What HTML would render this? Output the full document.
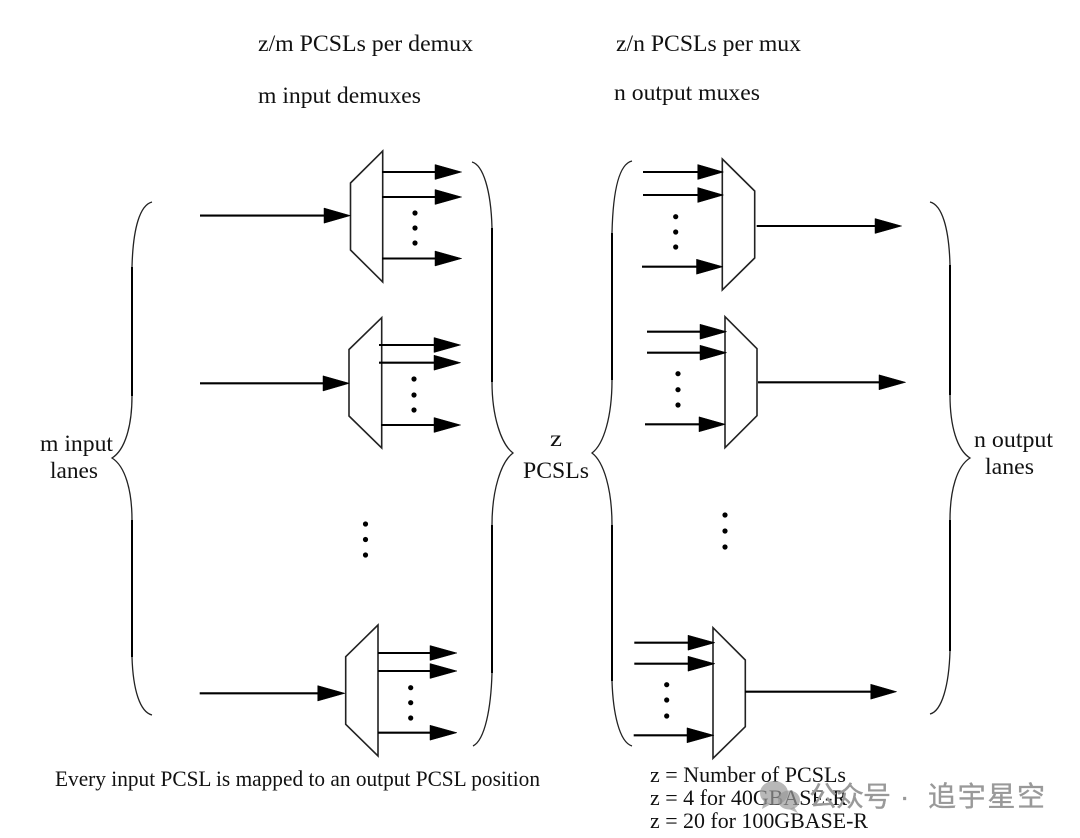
<!DOCTYPE html>
<html><head><meta charset="utf-8"><style>
html,body{margin:0;padding:0;background:#fff;width:1080px;height:838px;overflow:hidden}
svg{display:block}
text{font-family:"Liberation Serif","Noto Serif CJK SC",serif;fill:#111}
.t{font-size:23px}.b{font-size:22px}
.wm{font-family:"Liberation Sans","Noto Sans CJK SC",sans-serif;font-size:28px;fill:#999;stroke:#999;stroke-width:.35}
.l{stroke:#000;stroke-width:2.1;fill:none}
.m{stroke:#222;stroke-width:1.6;fill:#fff;stroke-linejoin:miter}
.h{fill:#000;stroke:#000;stroke-width:.5}
.br{stroke:#222;stroke-width:1.3;fill:none}
.v{stroke:#000;stroke-width:2;fill:none}
circle{r:2.6px}
</style></head><body>
<svg width="1080" height="838" viewBox="0 0 1080 838" xmlns="http://www.w3.org/2000/svg">
<rect width="1080" height="838" fill="#fff"/>

<!-- braces -->
<path class="br" d="M152,202 C140,205 133,228 132,267 V396 C132,426 125,450 112,458 C125,466 132,490 132,520 V657 C133,690 140,712 152,715"/>
<path class="br" d="M472,162 C483,165 491,190 492,228 V382 C492,416 501,444 513,453 C501,462 492,490 492,525 V673 C491,708 485,740 473,746"/>
<path class="br" d="M632,161 C619,164 613,190 612,233 V380 C612,416 604,444 592,453 C604,462 612,490 612,525 V681 C613,712 619,742 632,746"/>
<path class="br" d="M930,202 C942,205 949,228 950,265 V395 C950,426 957,450 970,458 C957,466 950,490 950,520 V651 C949,685 942,711 930,714"/>
<path class="v" d="M132,267 V396 M132,520 V657 M492,228 V382 M492,525 V673 M612,233 V380 M612,525 V681 M950,265 V395 M950,520 V651"/>

<!-- demux 1 -->
<path class="m" d="M382.7,151 L350.5,183 V250 L382.7,282 Z"/>
<path class="l" d="M200,215.6 H326 M382,172 H437 M382,197 H437 M382,258.5 H437"/>
<path class="h" d="M350.5,215.6 L324,208 V223.2 Z M461.7,172 L435,164.5 V179.5 Z M461.7,197 L435,189.5 V204.5 Z M461.7,258.5 L435,251 V266 Z"/>
<circle cx="415" cy="213" r="2.6"/><circle cx="415" cy="228" r="2.6"/><circle cx="415" cy="243" r="2.6"/>

<!-- demux 2 -->
<path class="m" d="M381.7,317.7 L349,349.5 V416 L381.7,448 Z"/>
<path class="l" d="M200,383.3 H325 M379,345 H436 M379,362.7 H436 M381,425 H436"/>
<path class="h" d="M349.5,383.3 L323,375.8 V391 Z M460.7,345 L434,337.5 V352.5 Z M460.7,362.7 L434,355.2 V370.2 Z M460.7,425 L434,417.5 V432.5 Z"/>
<circle cx="414" cy="379" r="2.6"/><circle cx="414" cy="395" r="2.6"/><circle cx="414" cy="410" r="2.6"/>

<!-- demux 3 -->
<path class="m" d="M378,625 L345.7,656.7 V724.3 L378,756 Z"/>
<path class="l" d="M199.7,693.3 H320 M378,653 H432 M378,671 H432 M378,732.7 H432"/>
<path class="h" d="M345,693.3 L317.7,685.6 V701 Z M457,653 L430,645.5 V660.5 Z M457,671 L430,663.5 V678.5 Z M457,732.7 L430,725.2 V740.2 Z"/>
<circle cx="410.7" cy="687.7" r="2.6"/><circle cx="410.7" cy="702.7" r="2.6"/><circle cx="410.7" cy="718" r="2.6"/>

<!-- middle dots -->
<circle cx="365.5" cy="524" r="2.6"/><circle cx="365.5" cy="539.5" r="2.6"/><circle cx="365.5" cy="555" r="2.6"/>
<circle cx="725" cy="515" r="2.6"/><circle cx="725" cy="531" r="2.6"/><circle cx="725" cy="547" r="2.6"/>

<!-- mux 1 -->
<path class="m" d="M722.3,159 L754.7,191 V258 L722.3,290 Z"/>
<path class="l" d="M643,172 H700 M643,195 H700 M642,266.7 H700 M756.7,226 H877"/>
<path class="h" d="M723.5,172 L697.7,164.5 V179.5 Z M723.5,195 L697.7,187.5 V202.5 Z M723,266.7 L696.5,259.2 V274.2 Z M901.7,226 L875,218.5 V233.5 Z"/>
<circle cx="675.7" cy="216.7" r="2.6"/><circle cx="675.7" cy="232" r="2.6"/><circle cx="675.7" cy="247" r="2.6"/>

<!-- mux 2 -->
<path class="m" d="M725,316.7 L757,348.7 V415.7 L725,447.7 Z"/>
<path class="l" d="M647,331.7 H702 M647,352.7 H702 M645,424.3 H702 M758,382.3 H881"/>
<path class="h" d="M726.7,331.7 L700,324.2 V339.2 Z M726.7,352.7 L700,345.2 V360.2 Z M725.5,424.3 L699,416.8 V431.8 Z M905.7,382.3 L879,374.8 V389.8 Z"/>
<circle cx="678" cy="373.7" r="2.6"/><circle cx="678" cy="389.7" r="2.6"/><circle cx="678" cy="405" r="2.6"/>

<!-- mux 3 -->
<path class="m" d="M713,627.7 L745.3,660 V726.7 L713,758.3 Z"/>
<path class="l" d="M634.3,642.7 H690 M634.3,663.7 H690 M633.7,735.3 H690 M745,691.7 H873"/>
<path class="h" d="M715,642.7 L688,635.2 V650.2 Z M715,663.7 L688,656.2 V671.2 Z M714,735.3 L687,727.8 V742.8 Z M896.7,691.7 L870.7,684.2 V699.2 Z"/>
<circle cx="666.7" cy="684.7" r="2.6"/><circle cx="666.7" cy="700" r="2.6"/><circle cx="666.7" cy="716" r="2.6"/>

<!-- labels -->
<text class="t" x="258" y="51" textLength="215" lengthAdjust="spacingAndGlyphs">z/m PCSLs per demux</text>
<text class="t" x="258" y="103" textLength="163" lengthAdjust="spacingAndGlyphs">m input demuxes</text>
<text class="t" x="616" y="51" textLength="185" lengthAdjust="spacingAndGlyphs">z/n PCSLs per mux</text>
<text class="t" x="614" y="100" textLength="146" lengthAdjust="spacingAndGlyphs">n output muxes</text>
<text class="t" x="40" y="451" textLength="73" lengthAdjust="spacingAndGlyphs">m input</text>
<text class="t" x="50" y="478" textLength="48" lengthAdjust="spacingAndGlyphs">lanes</text>
<text class="t" x="550" y="446" textLength="12" lengthAdjust="spacingAndGlyphs">z</text>
<text class="t" x="523" y="478" textLength="66" lengthAdjust="spacingAndGlyphs">PCSLs</text>
<text class="t" x="974" y="447" textLength="79" lengthAdjust="spacingAndGlyphs">n output</text>
<text class="t" x="985" y="474" textLength="49" lengthAdjust="spacingAndGlyphs">lanes</text>
<text class="b" x="55" y="786" textLength="485" lengthAdjust="spacingAndGlyphs">Every input PCSL is mapped to an output PCSL position</text>
<text class="b" x="650" y="782" textLength="196" lengthAdjust="spacingAndGlyphs">z = Number of PCSLs</text>
<text class="b" x="650" y="805" textLength="197" lengthAdjust="spacingAndGlyphs">z = 4 for 40GBASE-R</text>
<text class="b" x="650" y="828" textLength="218" lengthAdjust="spacingAndGlyphs">z = 20 for 100GBASE-R</text>

<!-- watermark -->
<g fill="#9a9a9a" fill-opacity=".7">
<ellipse cx="774" cy="793" rx="14" ry="12"/>
<path d="M764,801 L762,809 L771,804 Z"/>
<ellipse cx="789" cy="800" rx="11" ry="9.5"/>
<path d="M794,807 L798,813 L789,809 Z"/>
</g>
<text class="wm" x="809" y="806" textLength="82">公众号</text>
<text class="wm" x="900" y="806">·</text>
<text class="wm" x="928" y="806" textLength="117">追宇星空</text>
</svg>
</body></html>
